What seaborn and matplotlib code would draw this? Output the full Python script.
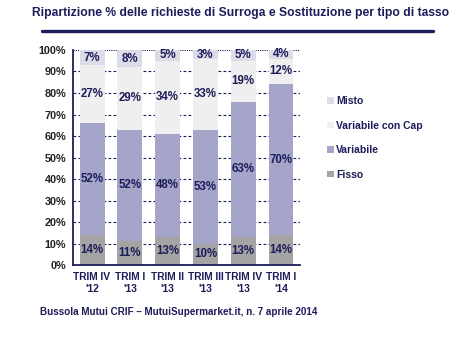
import numpy as np
import pandas as pd
import matplotlib
matplotlib.use("Agg")
import matplotlib.pyplot as plt
import seaborn as sns

quarters = ["TRIM IV\n'12", "TRIM I\n'13", "TRIM II\n'13", "TRIM III\n'13", "TRIM IV\n'13", "TRIM I\n'14"]
fisso = [14, 11, 13, 10, 13, 14]
variabile = [52, 52, 48, 53, 63, 70]
var_cap = [27, 29, 34, 33, 19, 12]
misto = [7, 8, 5, 3, 5, 4]

series = ["Fisso", "Variabile", "Variabile con Cap", "Misto"]
colors = {"Fisso": "#a4a4a4", "Variabile": "#a5a5c9",
          "Variabile con Cap": "#efefef", "Misto": "#dcdce9"}
navy = "#1c1c5a"

df = pd.DataFrame({"quarter": quarters, "Fisso": fisso, "Variabile": variabile,
                   "Variabile con Cap": var_cap, "Misto": misto})
cum = df[series].cumsum(axis=1)
cum["Misto"] = 100  # top of the stack sits on 100%

sns.set_style("white")
plt.rcParams["font.family"] = ["Liberation Sans", "DejaVu Sans"]

fig = plt.figure(figsize=(4.6, 3.52), dpi=100)
ax = fig.add_axes([0.159, 0.247, 0.493, 0.611])

# stacked bars: draw cumulative totals from top down
for s in reversed(series):
    sns.barplot(x=df["quarter"], y=cum[s], color=colors[s], width=0.66,
                saturation=1, ax=ax, label=s, edgecolor="none", linewidth=0)
for p in ax.patches:
    p.set_zorder(2)

# dashed grid behind the bars
for v in range(10, 100, 10):
    ax.axhline(v, color=navy, lw=0.8, ls=(0, (2.5, 2)), zorder=0.5)
ax.axhline(100, color=navy, lw=0.8, ls=(0, (1, 1)), zorder=0.5)

# value labels at segment centres
bottoms = np.zeros(len(df))
for s in series:
    vals = df[s].values
    for i, v in enumerate(vals):
        ax.text(i, bottoms[i] + v / 2, f"{v}%", ha="center", va="center",
                fontsize=8.3, fontweight="bold", color=navy, zorder=3)
    bottoms = bottoms + vals

ax.set_ylim(0, 100)
ax.set_xlim(-0.5, 5.5)
ax.set_yticks(range(0, 101, 10))
ax.set_yticklabels([f"{v}%" for v in range(0, 101, 10)])
ax.set_xlabel("")
ax.set_ylabel("")
ax.tick_params(axis="y", length=0, labelsize=7.8, colors="#222222", pad=5)
ax.tick_params(axis="x", length=0, labelsize=7.4, colors=navy, pad=5)
for lab in ax.get_xticklabels() + ax.get_yticklabels():
    lab.set_fontweight("bold")
for side in ["top", "right"]:
    ax.spines[side].set_visible(False)
for side in ["left", "bottom"]:
    ax.spines[side].set_color(navy)
    ax.spines[side].set_linewidth(1.3)
    ax.spines[side].set_zorder(4)

handles, labels = ax.get_legend_handles_labels()
leg = ax.legend(handles, labels, loc="upper left", bbox_to_anchor=(1.08, 0.83),
                frameon=False, handlelength=0.6, handleheight=0.6,
                handletextpad=0.2, labelspacing=1.4,
                prop={"size": 7.5, "weight": "bold"})
for t in leg.get_texts():
    t.set_color(navy)

fig.text(0.522, 0.962, "Ripartizione % delle richieste di Surroga e Sostituzione per tipo di tasso",
         ha="center", va="center", fontsize=8.7, fontweight="bold", color=navy)
fig.add_artist(plt.Line2D([0.092, 0.942], [0.912, 0.912], color=navy, lw=2.4))
fig.text(0.087, 0.113, "Bussola Mutui CRIF \u2013 MutuiSupermarket.it, n. 7 aprile 2014",
         ha="left", va="center", fontsize=7.1, fontweight="bold", color=navy)

fig.savefig("out.png", dpi=100)
